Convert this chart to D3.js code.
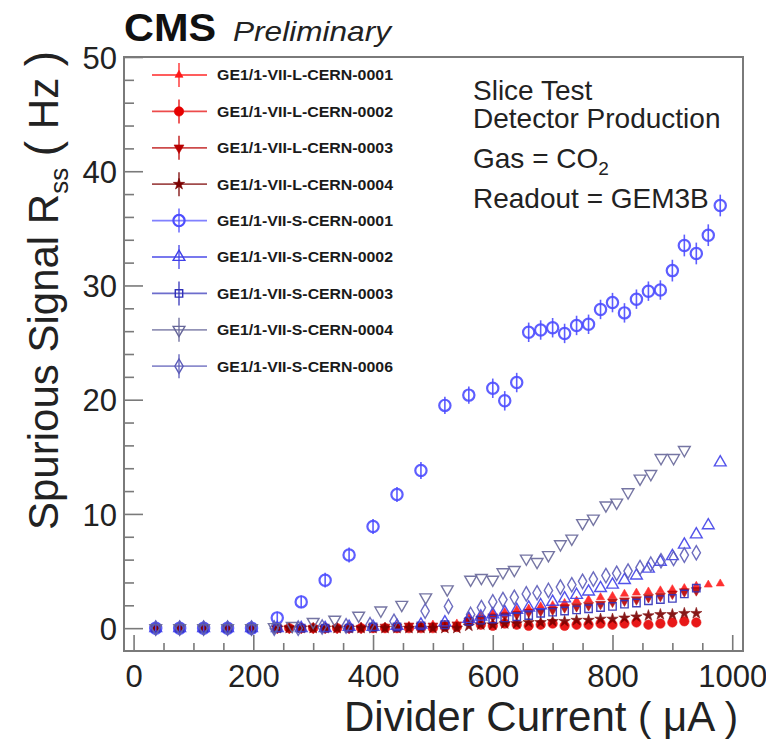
<!DOCTYPE html>
<html><head><meta charset="utf-8">
<script src="https://cdn.jsdelivr.net/npm/d3@7"></script>
<style>body{margin:0;background:#fff}svg{display:block}text{font-family:"Liberation Sans",Arial,Helvetica,sans-serif}</style>
</head><body><svg id="c" width="766" height="742"></svg>
<script>
// ---------- data ----------
const seriesNames = ["GE1/1-VII-L-CERN-0001","GE1/1-VII-L-CERN-0002","GE1/1-VII-L-CERN-0003","GE1/1-VII-L-CERN-0004",
  "GE1/1-VII-S-CERN-0001","GE1/1-VII-S-CERN-0002","GE1/1-VII-S-CERN-0003","GE1/1-VII-S-CERN-0004","GE1/1-VII-S-CERN-0006"];

const xL1 = [37,77,117,157,197,240,260,280,300,320,340,360,380,400,420,440,460,480,500,520,540,560,580,600,620,640,660,680,700,720,740,760,780,800,820,840,860,880,900,920,940,960,980];
const yL1 = [0,0,0,0,0,0,0,0,0,0,0,0.1,0.1,0.1,0.1,0.2,0.2,0.2,0.3,0.3,0.4,1.0,1.1,1.3,1.4,1.6,1.7,1.9,2.0,2.2,2.4,2.5,2.7,2.8,3.0,3.1,3.2,3.3,3.4,3.5,3.7,3.8,3.9];

const xL2 = [37,77,117,157,197,240,260,280,300,320,340,360,380,400,420,440,460,480,500,520,540,560,580,600,620,640,660,680,700,720,740,760,780,800,820,840,860,880,900,920,940];
const yL2 = [0,0,0,0,0,0,0,0,0,0,0,0,0,0,0,0,0,0,0,0.1,0.1,0.6,0.3,0.2,0.4,0.3,0.2,0.3,0.4,0.2,0.3,0.3,0.4,0.3,0.4,0.5,0.3,0.4,0.5,0.6,0.5];

const xL3 = [37,77,117,157,197,240,260,280,300,320,340,360,380,400,420,440,460,480,500,520,540,560,580,600,620,640,660,680,700,720,740,760,780,800,820,840,860,880,900,920,940];
const yL3 = [0,0,0,0,0,0,0,0,0,0,0,0,0,0.1,0.1,0.1,0.2,0.2,0.2,0.3,0.3,0.6,0.8,1.0,1.1,1.2,1.4,1.5,1.6,1.8,1.9,2.0,2.1,2.3,2.4,2.5,2.7,2.8,3.0,3.2,3.3];

const xL4 = [37,77,117,157,197,240,260,280,300,320,340,360,380,400,420,440,460,480,500,520,540,560,580,600,620,640,660,680,700,720,740,760,780,800,820,840,860,880,900,920,940];
const yL4 = [0,0,0,0,0,0,0,0,0,0,0,0,0,0,0,0,0,0,0,0,0,0.2,0.3,0.3,0.4,0.4,0.5,0.5,0.6,0.6,0.7,0.7,0.8,0.8,0.9,1.0,1.1,1.2,1.2,1.3,1.3];

const xS1 = [37,77,117,157,197,240,280,320,360,400,440,480,520,560,600,620,640,660,680,700,720,740,760,780,800,820,840,860,880,900,920,940,960,980];
const yS1 = [0,0,0,0,0,0.9,2.3,4.2,6.4,8.9,11.7,13.8,19.5,20.4,21.0,19.9,21.5,25.9,26.1,26.3,25.8,26.5,26.6,27.9,28.5,27.6,28.8,29.5,29.6,31.3,33.5,32.8,34.4,37.0];
const eS1 = [0.1,0.1,0.1,0.1,0.1,0.2,0.2,0.3,0.3,0.3,0.3,0.4,0.4,0.4,0.5,0.5,0.5,0.5,0.5,0.5,0.5,0.5,0.5,0.5,0.5,0.5,0.5,0.5,0.5,0.6,0.6,0.6,0.6,0.6];

const xS2 = [37,77,117,157,197,240,280,320,360,400,440,480,520,560,580,600,620,640,660,680,700,720,740,760,780,800,820,840,860,880,900,920,940,960,980];
const yS2 = [0,0,0,0,0,0,0,0,0.1,0.1,0.2,0.3,0.5,0.8,1.0,1.2,1.4,1.6,1.8,2.0,2.3,2.6,2.9,3.2,3.5,3.8,4.2,4.6,5.2,5.8,6.3,7.3,8.2,9.0,14.5];

const xS3 = [37,77,117,157,197,240,280,320,360,400,440,480,520,560,580,600,620,640,660,680,700,720,740,760,780,800,820,840,860,880,900,920,940];
const yS3 = [0,0,0,0,0,0,0,0,0,0.1,0.1,0.2,0.3,0.6,0.7,0.8,0.9,1.0,1.1,1.3,1.4,1.5,1.6,1.7,1.8,1.9,2.1,2.2,2.4,2.5,2.6,3.0,3.5];

const xS4 = [37,77,117,157,197,235,265,300,336,376,413,448,488,524,563,581,600,617,636,656,674,693,713,732,750,768,789,807,826,846,864,881,902,920];
const yS4 = [0,0,0,0,0,0.1,0.2,0.55,0.75,1.1,1.55,2.05,2.7,3.4,4.25,4.4,4.25,4.9,5.1,6.1,5.8,6.4,7.35,7.85,9.2,9.6,10.75,11.0,11.9,13.1,13.5,14.9,14.9,15.6];

const xS6 = [37,77,117,157,197,235,275,315,355,395,435,487,526,563,581,600,617,636,656,674,693,713,732,750,768,789,807,826,846,864,881,902,920,940];
const yS6 = [0,0,0,0,0,0,0,0.1,0.2,0.3,0.6,1.5,1.9,1.2,1.8,2.3,2.5,2.7,3.0,3.1,3.3,3.6,3.8,4.1,4.3,4.6,4.8,5.0,5.3,5.6,5.9,6.1,6.4,6.6];

const xTicks = [0,200,400,600,800,1000];
const yTicks = [0,10,20,30,40,50];

// ---------- styles ----------
const styles = [
  {c:"#ff1a1a", sym:d3.symbolTriangle, size:28, fill:true, rot:0},
  {c:"#e60000", sym:d3.symbolCircle,   size:70, fill:true, rot:0},
  {c:"#b80000", sym:d3.symbolTriangle, size:42, fill:true, rot:180},
  {c:"#7a0000", sym:d3.symbolStar,     size:40, fill:true, rot:0},
  {c:"#4d4dff", sym:d3.symbolCircle,   size:100, fill:false, rot:0, sw:2.2},
  {c:"#4040e8", sym:d3.symbolTriangle, size:60, fill:false, rot:0, sw:1.4},
  {c:"#3030b8", sym:d3.symbolSquare,   size:55, fill:false, rot:0, sw:1.4},
  {c:"#666699", sym:d3.symbolTriangle, size:60, fill:false, rot:180, sw:1.4},
  {c:"#5c5cb8", sym:d3.symbolDiamond,  size:60, fill:false, rot:0, sw:1.4}
];
const data = [[xL1,yL1],[xL2,yL2],[xL3,yL3],[xL4,yL4],[xS1,yS1,eS1],[xS2,yS2],[xS3,yS3],[xS4,yS4],[xS6,yS6]];

// ---------- chart ----------
const svg = d3.select("#c");
const L=124,R=743,T=57,B=651;
const x = d3.scaleLinear().domain([-16,1018]).range([L,R]);
const y = d3.scaleLinear().domain([-2,50]).range([B,T]);
const axisCol = "#7a7a7a";

// axes
const xMinor = d3.range(0,1001,50).filter(v=>v%200!==0);
const yMinor = d3.range(0,51,2).filter(v=>v%10!==0);
const gx = svg.append("g").attr("transform",`translate(0,${B})`);
gx.call(d3.axisBottom(x).tickValues(xMinor).tickSize(-8).tickFormat(""));
gx.append("g").call(d3.axisBottom(x).tickValues(xTicks).tickSize(-16).tickPadding(14).tickFormat(d3.format("d")));
const gy = svg.append("g").attr("transform",`translate(${L},0)`);
gy.call(d3.axisLeft(y).tickValues(yMinor).tickSize(-10).tickFormat(""));
gy.append("g").call(d3.axisLeft(y).tickValues(yTicks).tickSize(-19).tickPadding(7).tickFormat(d3.format("d")));
svg.selectAll(".domain").remove();
svg.selectAll(".tick line").attr("stroke",axisCol).attr("stroke-width",1.6);
svg.selectAll(".tick text").attr("fill","#222").style("font-size","31px").attr("font-family","Liberation Sans, Arial, sans-serif");
gy.selectAll(".tick text").attr("dy","0.36em");

// frame
svg.append("rect").attr("x",L).attr("y",T).attr("width",R-L).attr("height",B-T)
  .attr("fill","none").attr("stroke",axisCol).attr("stroke-width",2);

// points
const gp = svg.append("g");
data.forEach((d,i)=>{
  const s = styles[i];
  const pts = d[0].map((xv,k)=>({x:xv,y:d[1][k],e:d[2]?d[2][k]:0}));
  const g = gp.append("g");
  if (d[2]) {
    g.selectAll("line").data(pts).join("line")
      .attr("x1",p=>x(p.x)).attr("x2",p=>x(p.x))
      .attr("y1",p=>y(p.y+p.e)-4).attr("y2",p=>y(p.y-p.e)+4)
      .attr("stroke",s.c).attr("stroke-width",1.6).attr("opacity",0.9);
  }
  g.selectAll("path").data(pts).join("path")
    .attr("d",d3.symbol().type(s.sym).size(s.size))
    .attr("transform",p=>`translate(${x(p.x)},${y(p.y)}) rotate(${s.rot})`)
    .attr("fill",s.fill?s.c:"none").attr("stroke",s.c).attr("stroke-width",s.fill?0.6:s.sw)
    .attr("opacity",0.9);
});

// legend
const lg = svg.append("g");
seriesNames.forEach((n,i)=>{
  const s = styles[i], yy = 75 + i*36.4;
  const g = lg.append("g");
  g.append("line").attr("x1",152).attr("x2",207).attr("y1",yy).attr("y2",yy).attr("stroke",s.c).attr("stroke-width",1.8).attr("opacity",0.7);
  g.append("line").attr("x1",179).attr("x2",179).attr("y1",yy-12).attr("y2",yy+12).attr("stroke",s.c).attr("stroke-width",1.8).attr("opacity",0.7);
  g.append("path").attr("d",d3.symbol().type(s.sym).size(s.size))
    .attr("transform",`translate(179,${yy}) rotate(${s.rot})`)
    .attr("fill",s.fill?s.c:"none").attr("stroke",s.c).attr("stroke-width",s.fill?0.6:s.sw);
  g.append("text").attr("x",217).attr("y",yy).attr("dy","0.36em")
    .attr("textLength",176).attr("lengthAdjust","spacingAndGlyphs")
    .style("font-size","15px").style("font-weight","bold").attr("fill","#1a1a1a").text(n);
});

// titles
svg.append("text").attr("x",124).attr("y",41).style("font-size","38px").style("font-weight","bold")
  .attr("textLength",92).attr("lengthAdjust","spacingAndGlyphs").attr("fill","#111").text("CMS");
svg.append("text").attr("x",233).attr("y",41).style("font-size","28px").style("font-style","italic")
  .attr("textLength",158).attr("lengthAdjust","spacingAndGlyphs").attr("fill","#222").text("Preliminary");

const info = svg.append("g").attr("fill","#222").style("font-size","28px");
info.append("text").attr("x",473).attr("y",100).text("Slice Test");
info.append("text").attr("x",473).attr("y",128).text("Detector Production");
const gas = info.append("text").attr("x",473).attr("y",168);
gas.append("tspan").text("Gas = CO");
gas.append("tspan").attr("dy",7).style("font-size","19px").text("2");
info.append("text").attr("x",473).attr("y",208).text("Readout = GEM3B");

// x title
const xt = svg.append("text").attr("x",344).attr("y",731).style("font-size","42px").attr("fill","#222");
xt.append("tspan").text("Divider Current ");
xt.append("tspan").style("font-size","40px").style("font-weight","300").text("(");
xt.append("tspan").text(" μA ");
xt.append("tspan").style("font-size","40px").style("font-weight","300").text(")");

// y title
const yt = svg.append("text").attr("transform","translate(58,530) rotate(-90)").style("font-size","42px").attr("fill","#222");
yt.append("tspan").text("Spurious Signal R");
yt.append("tspan").style("font-size","26px").attr("dy",10).text("ss");
yt.append("tspan").attr("dy",-10).text("  ");
yt.append("tspan").style("font-size","46px").style("font-weight","300").text("(");
yt.append("tspan").text(" Hz ");
yt.append("tspan").style("font-size","46px").style("font-weight","300").text(")");
</script></body></html>
